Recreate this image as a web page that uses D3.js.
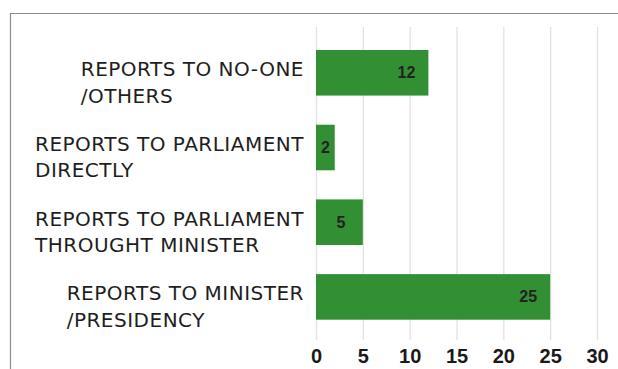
<!DOCTYPE html>
<html>
<head>
<meta charset="utf-8">
<script src="https://cdn.jsdelivr.net/npm/d3@7"></script>
<style>
  html, body { margin: 0; padding: 0; background: #fff; }
  svg { display: block; }
</style>
</head>
<body>
<svg id="chart" width="618" height="369"></svg>
<script>
// Reporting lines of the bodies surveyed (count per category)
const categories = [
  ["REPORTS TO NO-ONE", "/OTHERS"],
  ["REPORTS TO PARLIAMENT", "DIRECTLY"],
  ["REPORTS TO PARLIAMENT", "THROUGHT MINISTER"],
  ["REPORTS TO MINISTER", "/PRESIDENCY"]
];
const values = [12, 2, 5, 25];
const tickValues = [0, 5, 10, 15, 20, 25, 30];

const W = 618, H = 369;
const svg = d3.select("#chart");

// outer frame
svg.append("path")
  .attr("d", `M10.5,${H} V13.5 H${W}`)
  .attr("fill", "none")
  .attr("stroke", "#8c8c8c")
  .attr("stroke-width", 1.2);

const x = d3.scaleLinear().domain([0, 30]).range([316, 597]);
const y = d3.scaleBand()
  .domain(d3.range(categories.length))
  .range([38.8, 330.9])
  .paddingInner(0.39)
  .paddingOuter(0.15);

// vertical grid
const axis = d3.axisBottom(x).tickValues(tickValues).tickSize(-313).tickPadding(0);
const gAxis = svg.append("g").attr("transform", "translate(0,340)").call(axis);
gAxis.select(".domain").remove();
gAxis.selectAll(".tick line").attr("stroke", "#e2e2e2").attr("stroke-width", 1.3);
gAxis.selectAll(".tick text")
  .attr("y", 23)
  .attr("dy", 0)
  .attr("fill", "#1a1a1a")
  .style("font-family", "'Liberation Sans', Arial, sans-serif")
  .style("font-weight", "bold")
  .style("font-size", "20px");

// bars
svg.append("g").selectAll("rect")
  .data(values)
  .join("rect")
  .attr("x", x(0))
  .attr("y", (d, i) => y(i))
  .attr("width", d => x(d) - x(0))
  .attr("height", y.bandwidth())
  .attr("fill", "#338f33");

// value labels
svg.append("g").selectAll("text")
  .data(values)
  .join("text")
  .attr("x", d => Math.max((x(0) + x(d)) / 2, x(d) - 22))
  .attr("y", (d, i) => y(i) + y.bandwidth() / 2 + 5.5)
  .attr("text-anchor", "middle")
  .attr("fill", "#222")
  .style("font-family", "'Liberation Sans', Arial, sans-serif")
  .style("font-weight", "bold")
  .style("font-size", "16px")
  .text(d => d);

// category labels: lines left-aligned within a block that ends near the axis
const labelRight = 304;
const gLab = svg.append("g");
categories.forEach((lines, i) => {
  const t = gLab.append("text")
    .attr("fill", "#1e1e1e")
    .style("font-family", "'DejaVu Sans', sans-serif")
    .style("font-size", "20px")
    .style("letter-spacing", "0.5px");
  const cy = y(i) + y.bandwidth() / 2;
  lines.forEach((ln, k) => {
    t.append("tspan").attr("y", cy + 3.5 + k * 26.5).text(ln);
  });
  let maxW = 0;
  t.selectAll("tspan").each(function () {
    maxW = Math.max(maxW, this.getComputedTextLength());
  });
  t.selectAll("tspan").attr("x", labelRight - maxW);
});
</script>
</body>
</html>
